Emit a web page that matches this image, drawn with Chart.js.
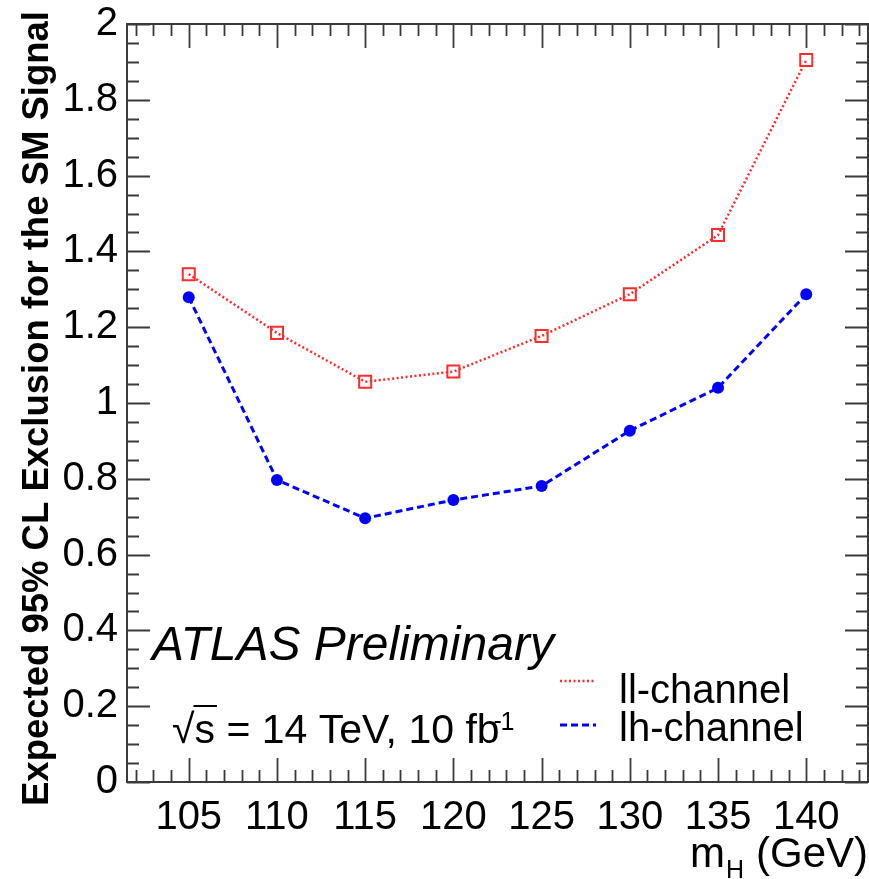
<!DOCTYPE html>
<html lang="en">
<head>
  <meta charset="UTF-8">
  <title>Expected 95% CL Exclusion for the SM Signal</title>
  <script src="https://cdn.jsdelivr.net/npm/chart.js"></script>
  <style>
    html, body { margin: 0; padding: 0; background: #fff; }
    #wrap { width: 869px; height: 879px; }
  </style>
</head>
<body>
  <div id="wrap"><canvas id="limitChart" width="869" height="879"></canvas></div>

  <script>
    // Higgs mass points (GeV) and expected limits
    const massPoints = [105, 110, 115, 120, 125, 130, 135, 140];
    const llChannel = [1.340, 1.185, 1.056, 1.083, 1.177, 1.287, 1.443, 1.905];
    const lhChannel = [1.279, 0.797, 0.696, 0.744, 0.781, 0.927, 1.040, 1.287];

    // axis labels
    const xTickLabels = [105, 110, 115, 120, 125, 130, 135, 140];
    const yTickLabels = ['0', '0.2', '0.4', '0.6', '0.8', '1', '1.2', '1.4', '1.6', '1.8', '2'];

    const FONT = "'Liberation Sans', Arial, Helvetica, sans-serif";

    // no automatic label padding, the frame is placed by hand
    function noPadding(scale) {
      scale.paddingTop = 0;
      scale.paddingBottom = 0;
      scale.paddingLeft = 0;
      scale.paddingRight = 0;
    }

    // ROOT style frame with inward ticks on all four sides
    const frameTicks = {
      id: 'frameTicks',
      afterDatasetsDraw(chart) {
        const { ctx, chartArea: a, scales } = chart;
        const xs = scales.x, ys = scales.y;
        ctx.save();
        ctx.strokeStyle = '#3a3a3a';
        ctx.lineWidth = 1.8;
        ctx.beginPath();
        for (let v = Math.ceil(xs.min); v <= xs.max; v++) {
          const px = Math.round(xs.getPixelForValue(v)) + 0.5;
          const len = v % 5 === 0 ? 24 : 12;
          ctx.moveTo(px, a.bottom); ctx.lineTo(px, a.bottom - len);
          ctx.moveTo(px, a.top); ctx.lineTo(px, a.top + len);
        }
        for (let i = 0; i <= 40; i++) {
          const py = Math.round(ys.getPixelForValue(i * 0.05)) + 0.5;
          const len = i % 4 === 0 ? 23 : 12;
          ctx.moveTo(a.left, py); ctx.lineTo(a.left + len, py);
          ctx.moveTo(a.right, py); ctx.lineTo(a.right - len, py);
        }
        ctx.stroke();
        ctx.lineWidth = 2;
        ctx.strokeRect(a.left, a.top, a.right - a.left, a.bottom - a.top);
        ctx.restore();
      }
    };

    // titles, annotations and legend
    const annotations = {
      id: 'annotations',
      afterDraw(chart) {
        const ctx = chart.ctx;
        ctx.save();
        ctx.fillStyle = '#000';
        ctx.textBaseline = 'alphabetic';

        // y axis title, rotated
        const yTitle = 'Expected 95% CL Exclusion for the SM Signal';
        ctx.font = 'bold 37px ' + FONT;
        const w = ctx.measureText(yTitle).width;
        ctx.translate(48, 806);
        ctx.rotate(-Math.PI / 2);
        ctx.scale(795 / w, 1);
        ctx.textAlign = 'left';
        ctx.fillText(yTitle, 0, 0);
        ctx.setTransform(1, 0, 0, 1, 0, 0);

        // x axis title m_H (GeV)
        ctx.font = '42px ' + FONT;
        ctx.textAlign = 'right';
        ctx.fillText('(GeV)', 868, 867);
        const gevW = ctx.measureText('(GeV)').width;
        ctx.font = '25px ' + FONT;
        const hW = ctx.measureText('H').width;
        ctx.textAlign = 'left';
        const hX = 868 - gevW - 12 - hW;
        ctx.fillText('H', hX, 878);
        ctx.font = '42px ' + FONT;
        ctx.textAlign = 'right';
        ctx.fillText('m', hX - 1, 867);

        // ATLAS Preliminary
        ctx.textAlign = 'left';
        ctx.font = 'italic 48px ' + FONT;
        ctx.fillText('ATLAS Preliminary', 152, 660);

        // sqrt(s) = 14 TeV, 10 fb-1
        ctx.font = '41px ' + FONT;
        ctx.fillText('\u221A', 172, 743);
        const rootW = ctx.measureText('\u221A').width;
        const sX = 172 + rootW;
        ctx.fillText('s = 14 TeV, 10 fb', sX, 743);
        const sW = ctx.measureText('s').width;
        const restW = ctx.measureText('s = 14 TeV, 10 fb').width;
        ctx.fillRect(sX - 1, 705, sW + 3, 2);
        ctx.font = '25px ' + FONT;
        ctx.fillText('-', sX + restW - 6, 729);
        ctx.fillText('1', sX + restW + 1, 730);

        // legend
        ctx.lineWidth = 2.5;
        ctx.strokeStyle = '#ff2a2a';
        ctx.setLineDash([2, 2.5]);
        ctx.beginPath(); ctx.moveTo(560, 681); ctx.lineTo(596, 681); ctx.stroke();
        ctx.strokeStyle = '#0000ff';
        ctx.lineWidth = 3;
        ctx.setLineDash([7, 4]);
        ctx.beginPath(); ctx.moveTo(560, 725); ctx.lineTo(596, 725); ctx.stroke();
        ctx.setLineDash([]);
        ctx.font = '40px ' + FONT;
        ctx.fillText('ll-channel', 619, 703);
        ctx.fillText('lh-channel', 619, 741);
        ctx.restore();
      }
    };

    const ctx = document.getElementById('limitChart').getContext('2d');
    new Chart(ctx, {
      type: 'line',
      data: {
        datasets: [
          {
            label: 'll-channel',
            data: massPoints.map((m, i) => ({ x: m, y: llChannel[i] })),
            borderColor: '#ff2a2a',
            borderWidth: 2.5,
            borderDash: [2, 2.5],
            pointStyle: 'rect',
            pointRadius: 8.5,
            pointBorderWidth: 2,
            pointBorderColor: '#ff2a2a',
            pointBackgroundColor: 'rgba(0,0,0,0)',
            tension: 0
          },
          {
            label: 'lh-channel',
            data: massPoints.map((m, i) => ({ x: m, y: lhChannel[i] })),
            borderColor: '#0000ff',
            borderWidth: 3,
            borderDash: [7, 4],
            pointStyle: 'circle',
            pointRadius: 6,
            pointBorderWidth: 0,
            pointBackgroundColor: '#0000ff',
            tension: 0
          }
        ]
      },
      options: {
        responsive: false,
        animation: false,
        layout: { autoPadding: false, padding: { top: 24, right: 1, left: 0, bottom: 0 } },
        plugins: {
          legend: { display: false },
          tooltip: { enabled: false }
        },
        scales: {
          x: {
            type: 'linear',
            min: 101.5,
            max: 143.5,
            afterBuildTicks(scale) {
              scale.ticks = xTickLabels.map(v => ({ value: v }));
            },
            afterFit(scale) { scale.height = 97; noPadding(scale); },
            grid: { display: false, drawTicks: false },
            border: { display: false },
            ticks: {
              padding: 12,
              color: '#000',
              font: { family: FONT, size: 40 },
              maxRotation: 0,
              autoSkip: false,
              callback: v => String(v)
            }
          },
          y: {
            min: 0,
            max: 2,
            afterBuildTicks(scale) {
              scale.ticks = yTickLabels.map((t, i) => ({ value: i * 0.2 }));
            },
            afterFit(scale) { scale.width = 127; noPadding(scale); },
            grid: { display: false, drawTicks: false },
            border: { display: false },
            ticks: {
              padding: 9,
              color: '#000',
              font: { family: FONT, size: 40 },
              autoSkip: false,
              callback: v => yTickLabels[Math.round(v / 0.2)]
            }
          }
        }
      },
      plugins: [frameTicks, annotations]
    });
  </script>
</body>
</html>
